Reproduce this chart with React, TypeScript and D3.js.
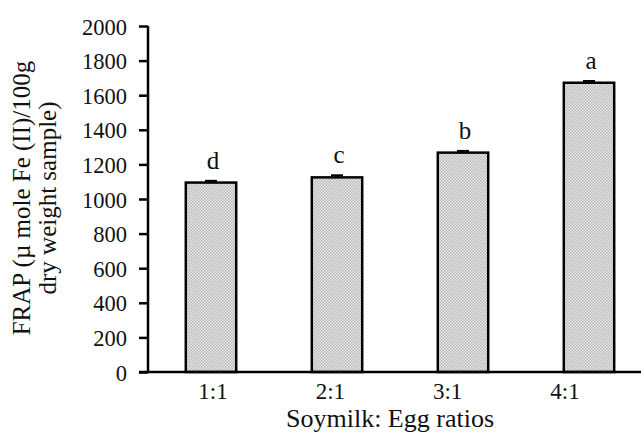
import React from "react";
import * as d3 from "d3";
import { useEffect, useRef } from "react";

const ratios = ["1:1", "2:1", "3:1", "4:1"];
const frapValues = [1095, 1125, 1268, 1672];
const frapErrors = [10, 12, 10, 10];
const sigLetters = ["d", "c", "b", "a"];
const yTicks = [0, 200, 400, 600, 800, 1000, 1200, 1400, 1600, 1800, 2000];

const FONT = "'Liberation Serif', 'Times New Roman', serif";

function App() {
  const svgRef = useRef<SVGSVGElement>(null);
  const width = 641;
  const height = 433;
  const margin = { top: 26, left: 148, bottom: 61 };

  useEffect(() => {
    const svg = d3.select(svgRef.current);
    svg.selectAll("*").remove();

    // checker fill like the original
    const defs = svg.append("defs");
    const pat = defs
      .append("pattern")
      .attr("id", "dots")
      .attr("width", 3)
      .attr("height", 3)
      .attr("patternUnits", "userSpaceOnUse");
    pat.append("rect").attr("width", 3).attr("height", 3).attr("fill", "#ececec");
    pat.append("rect").attr("width", 1.5).attr("height", 1.5).attr("fill", "#b4b4b4");
    pat.append("rect").attr("x", 1.5).attr("y", 1.5).attr("width", 1.5).attr("height", 1.5).attr("fill", "#b4b4b4");

    const plotH = height - margin.top - margin.bottom;
    const x = d3
      .scaleBand()
      .domain(ratios)
      .range([margin.left, margin.left + 504])
      .paddingInner(0.6)
      .paddingOuter(0.3);
    // category labels sit a bit off the bar centres in the original
    const xLab = d3.scalePoint().domain(ratios).range([213, 565]);
    const y = d3.scaleLinear().domain([0, 2000]).range([margin.top + plotH, margin.top]);

    // y axis
    const yAxis = d3.axisLeft(y).tickValues(yTicks).tickFormat(d3.format("d")).tickSize(9).tickPadding(12);
    const gy = svg.append("g").attr("transform", `translate(${margin.left},0)`).call(yAxis);
    gy.attr("font-family", FONT).attr("font-size", 22.5);
    gy.select(".domain").attr("stroke", "#000").attr("stroke-width", 2.5).attr("d", `M0,${y(2000)}V${y(0)}`);
    gy.selectAll(".tick line").attr("stroke", "#000").attr("stroke-width", 2.5);
    gy.selectAll(".tick text").attr("fill", "#111").attr("dy", "0.36em");

    // bars
    svg
      .append("g")
      .selectAll("rect")
      .data(frapValues)
      .join("rect")
      .attr("x", (d, i) => x(ratios[i])!)
      .attr("y", (d) => y(d))
      .attr("width", x.bandwidth())
      .attr("height", (d) => y(0) - y(d))
      .attr("fill", "url(#dots)")
      .attr("stroke", "#000")
      .attr("stroke-width", 2.5);

    // error bars
    const eb = svg.append("g").attr("stroke", "#000").attr("stroke-width", 2);
    frapValues.forEach((v, i) => {
      const cx = x(ratios[i])! + x.bandwidth() / 2;
      eb.append("line").attr("x1", cx).attr("x2", cx).attr("y1", y(v)).attr("y2", y(v + frapErrors[i]));
      eb.append("line").attr("x1", cx - 6).attr("x2", cx + 6).attr("y1", y(v + frapErrors[i])).attr("y2", y(v + frapErrors[i]));
    });

    // x axis
    svg
      .append("line")
      .attr("x1", margin.left - 9)
      .attr("x2", width)
      .attr("y1", y(0))
      .attr("y2", y(0))
      .attr("stroke", "#000")
      .attr("stroke-width", 2.5);

    svg
      .append("g")
      .selectAll("text")
      .data(ratios)
      .join("text")
      .attr("x", (d) => xLab(d)!)
      .attr("y", y(0) + 27)
      .attr("text-anchor", "middle")
      .attr("font-family", FONT)
      .attr("font-size", 23)
      .attr("fill", "#111")
      .text((d) => d);

    // significance letters
    svg
      .append("g")
      .selectAll("text")
      .data(sigLetters)
      .join("text")
      .attr("x", (d, i) => x(ratios[i])! + x.bandwidth() / 2 + 2)
      .attr("y", (d, i) => y(frapValues[i]) - 14)
      .attr("text-anchor", "middle")
      .attr("font-family", FONT)
      .attr("font-size", 25)
      .attr("fill", "#111")
      .text((d) => d);

    // axis titles
    svg
      .append("text")
      .attr("x", 390)
      .attr("y", 427)
      .attr("text-anchor", "middle")
      .attr("font-family", FONT)
      .attr("font-size", 26)
      .attr("fill", "#111")
      .text("Soymilk: Egg ratios");

    const yt = svg
      .append("text")
      .attr("transform", "rotate(-90)")
      .attr("text-anchor", "middle")
      .attr("font-family", FONT)
      .attr("font-size", 25)
      .attr("fill", "#111");
    yt.append("tspan").attr("x", -198).attr("y", 30).text("FRAP (µ mole Fe (II)/100g");
    yt.append("tspan").attr("x", -198).attr("y", 56).text("dry weight sample)");
  }, []);

  return (
    <svg
      ref={svgRef}
      width={width}
      height={height}
      style={{ position: "absolute", left: 0, top: 0, background: "#fff" }}
    ></svg>
  );
}

export default App;
